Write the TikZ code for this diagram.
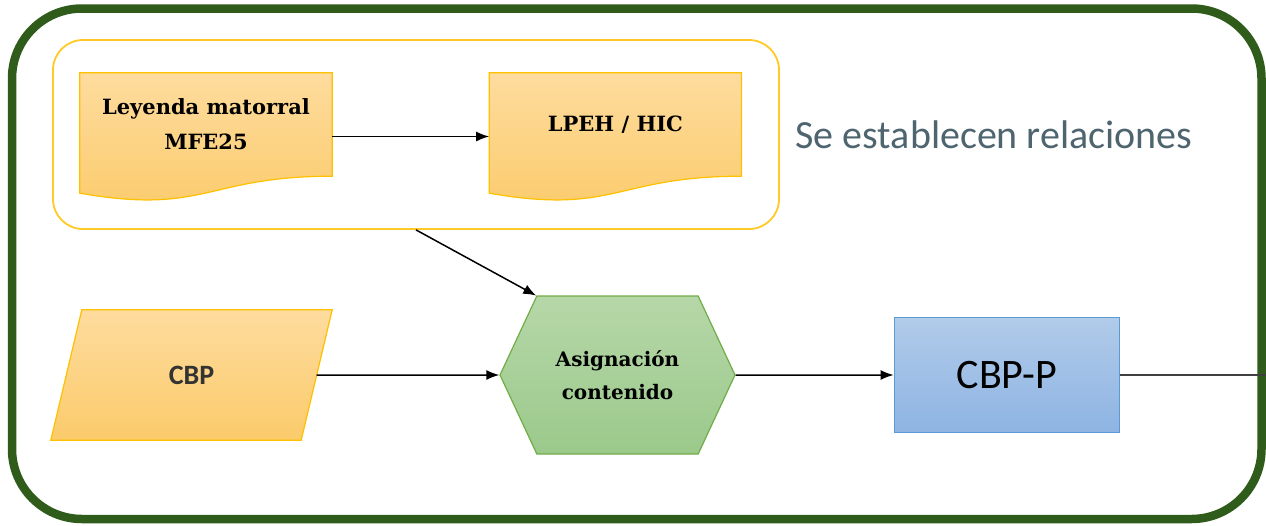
\documentclass[tikz,border=0pt]{standalone}
\usepackage{fontspec}
\setmainfont{DejaVu Serif}
\newfontfamily\calibri{Carlito}
\usetikzlibrary{positioning,shapes.symbols,backgrounds,calc,arrows.meta}

\definecolor{marcoverde}{HTML}{2F5C1B}
\definecolor{amarilloborde}{HTML}{FFC000}
\definecolor{amarilloarriba}{HTML}{FEDC9E}
\definecolor{amarilloabajo}{HTML}{FBCB6B}
\definecolor{verdeborde}{HTML}{70AD47}
\definecolor{verdearriba}{HTML}{B6D7A8}
\definecolor{verdeabajo}{HTML}{9BC98B}
\definecolor{azulborde}{HTML}{5B9BD5}
\definecolor{azularriba}{HTML}{B1CBE9}
\definecolor{azulabajo}{HTML}{8EB4E3}
\definecolor{textogris}{HTML}{4E6570}

% document shape with wavy bottom, drawn behind the node text
\newcommand{\formadoc}[1]{%
  \begin{pgfonlayer}{background}
    \path[amarillo] (#1.north west) -- (#1.north east) -- (#1.south east)
      .. controls +(-126,0) and +(126,22) .. ($(#1.south west)+(0,17)$) -- cycle;
  \end{pgfonlayer}}
% parallelogram leaning right, drawn behind the node text
\newcommand{\formaparal}[1]{%
  \begin{pgfonlayer}{background}
    \path[amarillo] (#1.south west) -- ($(#1.north west)+(31,0)$) -- (#1.north east)
      -- ($(#1.south east)+(-31,0)$) -- cycle;
  \end{pgfonlayer}}

\begin{document}
\begin{tikzpicture}[
      x=1pt, y=-1pt,
      doc/.style={minimum width=252pt, minimum height=103pt, align=center,
                  font=\bfseries\fontsize{21}{35}\selectfont},
      amarillo/.style={draw=amarilloborde, line width=1.2pt,
                       top color=amarilloarriba, bottom color=amarilloabajo},
      grupobox/.style={draw=amarilloborde!85, line width=1.8pt, rounded corners=30pt,
                       minimum width=726pt, minimum height=189pt},
      cbpbox/.style={minimum width=281pt, minimum height=130pt,
                     text=black!80, font=\calibri\bfseries\fontsize{28}{30}\selectfont},
      hexbox/.style={signal, signal to=west and east, signal pointer angle=130,
                     minimum width=235pt, minimum height=158pt,
                     draw=verdeborde, line width=1.2pt,
                     top color=verdearriba, bottom color=verdeabajo,
                     align=center, font=\bfseries\fontsize{20}{33}\selectfont},
      cbppbox/.style={minimum width=225pt, minimum height=115pt,
                      draw=azulborde, line width=1.2pt,
                      top color=azularriba, bottom color=azulabajo,
                      font=\calibri\fontsize{42}{44}\selectfont},
      marcobox/.style={draw=marcoverde, line width=8.5pt, rounded corners=70pt,
                       minimum width=1249.5pt, minimum height=510.5pt},
      flecha/.style={draw, line width=1.5pt, -{Latex[length=13pt,width=10pt]}},
      linea/.style={draw=black!75, line width=1.5pt}
    ]
    \useasboundingbox (0,0) rectangle (1266,525);

    \node (marco) [marcobox] at (636.75,263.75) {};

    \node (leyenda) [doc]                      at (206,124.5) {Leyenda matorral\\MFE25};
    \node (lpeh)    [doc, right=157pt of leyenda]             {LPEH / HIC};
    \formadoc{leyenda}
    \formadoc{lpeh}
    \node (grupo)   [grupobox]                 at (416,134.5) {};
    \node (relaciones) [anchor=west, text=textogris,
                        font=\calibri\fontsize{40}{44}\selectfont] at (792,135) {Se establecen relaciones};

    \node (cbp)  [cbpbox]                    at (191.5,375) {CBP};
    \formaparal{cbp}
    \node (asig) [hexbox]                    at (617.5,375) {Asignación\\contenido};
    \node (cbpp) [cbppbox, right=158pt of asig]              {CBP-P};
    \coordinate (salida) at (marco.east |- cbpp.east);

    \draw[flecha] ([yshift=-12pt]leyenda.east) -- ([yshift=-12pt]lpeh.west);
    \draw[flecha] (grupo.south) -- (asig.north west);
    \draw[flecha] ([xshift=-15.5pt]cbp.east) -- (asig);
    \draw[flecha] (asig) -- (cbpp);
    \draw[linea]  (cbpp) -- (salida);
  \end{tikzpicture}
\end{document}
